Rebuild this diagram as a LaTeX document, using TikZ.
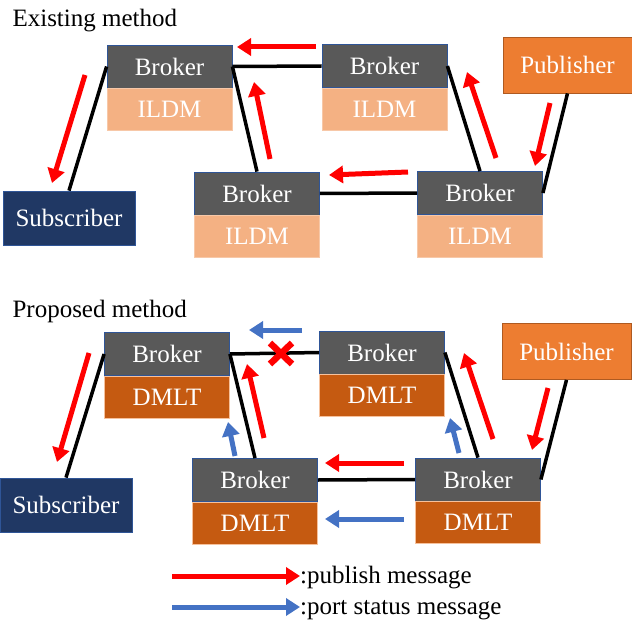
\documentclass[tikz,border=0pt]{standalone}
\usepackage{fontspec}
\setmainfont{Liberation Serif}
\usetikzlibrary{arrows.meta,positioning}
\definecolor{brokergray}{HTML}{595959}
\definecolor{edgeblue}{HTML}{2F5597}
\definecolor{ildmcol}{HTML}{F4B183}
\definecolor{dmltcol}{HTML}{C55A11}
\definecolor{subnavy}{HTML}{203864}
\definecolor{pubcol}{HTML}{ED7D31}
\definecolor{pubedge}{HTML}{AE5A21}
\definecolor{portblue}{HTML}{4472C4}
\tikzset{font=\fontsize{25}{29}\selectfont}
\tikzset{
  box/.style={rectangle, inner sep=0pt, text=white, line width=0.8pt},
  broker/.style={box, fill=brokergray, draw=edgeblue,
    minimum width=125pt, minimum height=43pt},
  ildm/.style={box, fill=ildmcol, draw=ildmcol!70!white,
    minimum width=125pt, minimum height=42pt},
  dmlt/.style={box, fill=dmltcol, draw=ildmcol!80!white,
    minimum width=125pt, minimum height=42pt},
  subscriber/.style={box, fill=subnavy, draw=edgeblue,
    minimum width=132pt, minimum height=54pt},
  publisher/.style={box, fill=pubcol, draw=pubedge,
    minimum width=129pt, minimum height=56pt},
  link/.style={line width=3.5pt, black},
  pubmsg/.style={line width=5pt, red, -{Triangle[length=14pt,width=17pt]}},
  portmsg/.style={line width=5pt, portblue, -{Triangle[length=14pt,width=17pt]}}
}

\begin{document}
\begin{tikzpicture}[x=1pt,y=-1pt]
  \useasboundingbox (0,0) rectangle (632,623);

  % existing method
  \node[anchor=base west] (titleA) at (9,27) {Existing method};
  \node[broker] (eb1) at (169.5,66.5) {Broker};
  \node[ildm, below=0pt of eb1] (ei1) {ILDM};
  \node[broker] (eb2) at (384.5,66) {Broker};
  \node[ildm, below=0pt of eb2] (ei2) {ILDM};
  \node[broker] (eb3) at (257,193.5) {Broker};
  \node[ildm, below=0pt of eb3] (ei3) {ILDM};
  \node[broker] (eb4) at (480,193) {Broker};
  \node[ildm, below=0pt of eb4] (ei4) {ILDM};
  \node[subscriber] (esub) at (69,218) {Subscriber};
  \node[publisher] (epub) at (567.5,65) {Publisher};

  \draw[link] (esub.north) -- (eb1.west);
  \draw[link] (eb1.east) -- (eb2.west);
  \draw[link] (eb1.east) -- (eb3.north);
  \draw[link] (eb2.east) -- (eb4.north);
  \draw[link] (eb3.east) -- (eb4.west);
  \draw[link] (epub.south) -- (eb4.east);

  \draw[pubmsg] (316,47) -- (237,47);
  \draw[pubmsg] (85,75) -- (52,183);
  \draw[pubmsg] (270,159) -- (254,82);
  \draw[pubmsg] (496,158) -- (467,72);
  \draw[pubmsg] (550,103) -- (535,166);
  \draw[pubmsg] (408,172) -- (329,175);

  % proposed method
  \node[anchor=base west] (titleB) at (9,317) {Proposed method};
  \node[broker] (pb1) at (167,354) {Broker};
  \node[dmlt, below=0pt of pb1] (pd1) {DMLT};
  \node[broker] (pb2) at (382,352.5) {Broker};
  \node[dmlt, below=0pt of pb2] (pd2) {DMLT};
  \node[broker] (pb3) at (255,480) {Broker};
  \node[dmlt, below=0pt of pb3] (pd3) {DMLT};
  \node[broker] (pb4) at (478,479.5) {Broker};
  \node[dmlt, below=0pt of pb4] (pd4) {DMLT};
  \node[subscriber] (psub) at (66,505) {Subscriber};
  \node[publisher] (ppub) at (566.5,351.5) {Publisher};

  \draw[link] (psub.north) -- (pb1.west);
  \draw[link] (pb1.east) -- (pb2.west);
  \draw[link] (pb1.east) -- (pb3.north);
  \draw[link] (pb2.east) -- (pb4.north);
  \draw[link] (pb3.east) -- (pb4.west);
  \draw[link] (ppub.south) -- (pb4.east);

  % broken link
  \draw[red, line width=6.5pt] (270,343) -- (292,364) (270,364) -- (292,343);

  \draw[portmsg] (302,330) -- (249,330);
  \draw[pubmsg] (89,353) -- (57,462);
  \draw[pubmsg] (264,438) -- (247,364);
  \draw[portmsg] (235,456) -- (228,422);
  \draw[pubmsg] (493,439) -- (464,353);
  \draw[portmsg] (459,453) -- (450,418);
  \draw[pubmsg] (548,388) -- (532,450);
  \draw[pubmsg] (404,463) -- (325,463);
  \draw[portmsg] (404,519) -- (325,519);

  % legend
  \coordinate (lr) at (172,576);
  \coordinate (lb) at (172,607);
  \node[anchor=base west, inner sep=0pt] (legpub) at (300,583) {:publish message};
  \node[anchor=base west, inner sep=0pt] (legport) at (300,614) {:port status message};
  \draw[pubmsg] (lr) -- (legpub.west |- lr);
  \draw[portmsg] (lb) -- (legport.west |- lb);
\end{tikzpicture}
\end{document}
